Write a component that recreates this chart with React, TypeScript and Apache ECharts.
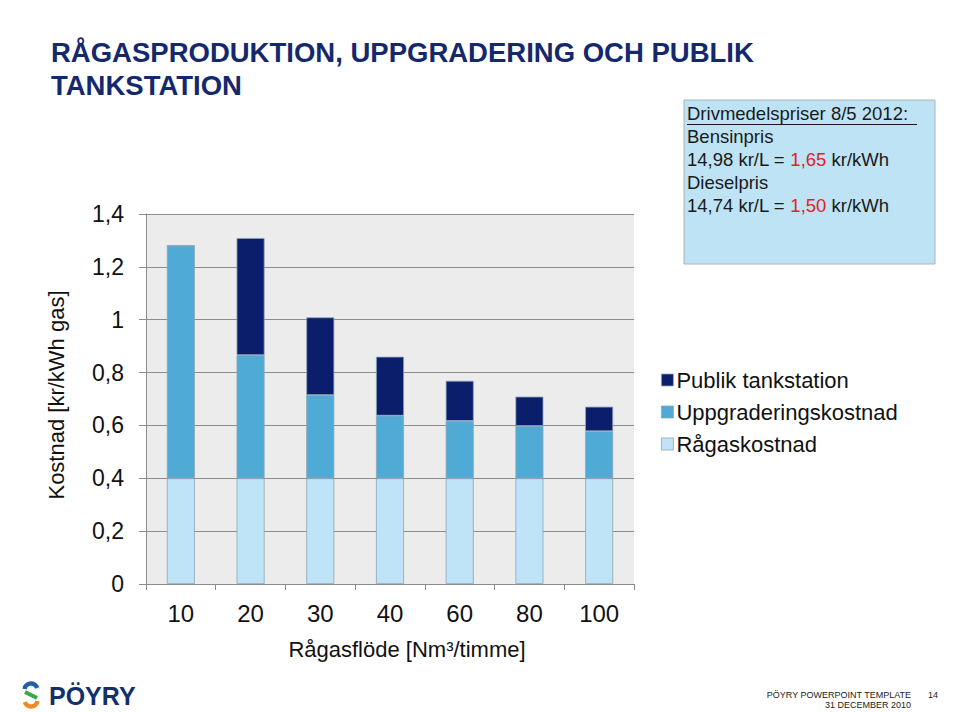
import React, { useEffect, useRef } from "react";
import * as echarts from "echarts";

const categories = ["10", "20", "30", "40", "60", "80", "100"];
const ragaskostnad = [0.4, 0.4, 0.4, 0.4, 0.4, 0.4, 0.4];
const uppgradering = [0.88, 0.466, 0.315, 0.237, 0.217, 0.198, 0.178];
const publik = [0, 0.443, 0.294, 0.223, 0.152, 0.111, 0.093];
const seriesNames = ["Publik tankstation", "Uppgraderingskostnad", "Rågaskostnad"];

const FONT = "'Liberation Sans', Arial, Helvetica, sans-serif";
const NAVY = "#14286e";

export default function App() {
  const ref = useRef<HTMLDivElement>(null);
  useEffect(() => {
    if (!ref.current) return;
    const chart = echarts.init(ref.current, null, { renderer: "svg" });
    const barBorder = { borderColor: "#8aa4b8", borderWidth: 0.8 };
    chart.setOption({
      animation: false,
      backgroundColor: "#ffffff",
      textStyle: { fontFamily: FONT },
      grid: {
        left: 146,
        right: 326,
        top: 214,
        bottom: 128,
        show: true,
        backgroundColor: "#ececec",
        borderWidth: 0,
      },
      legend: {
        data: seriesNames,
        orient: "vertical",
        left: 656,
        top: 364,
        itemWidth: 12,
        itemHeight: 12,
        itemGap: 10,
        icon: "rect",
        itemStyle: { borderColor: "#8aa4b8", borderWidth: 0.8 },
        textStyle: { fontSize: 22, color: "#111", fontFamily: FONT, padding: [0, 0, 0, -2] },
      },
      xAxis: {
        type: "category",
        data: categories,
        axisLine: { show: true, lineStyle: { color: "#8c8c8c", width: 1 } },
        axisTick: { show: true, length: 6, lineStyle: { color: "#8c8c8c" } },
        axisLabel: { fontSize: 24, color: "#111", margin: 17, fontFamily: FONT },
      },
      yAxis: {
        type: "value",
        min: 0,
        max: 1.4,
        interval: 0.2,
        axisLine: { show: true, lineStyle: { color: "#8c8c8c", width: 1 } },
        axisTick: { show: true, length: 7, lineStyle: { color: "#8c8c8c" } },
        axisLabel: {
          fontSize: 23,
          color: "#111",
          margin: 22,
          fontFamily: FONT,
          formatter: (v: number) => String(Math.round(v * 10) / 10).replace(".", ","),
        },
        splitLine: { show: true, lineStyle: { color: "#8c8c8c", width: 1 } },
      },
      series: [
        {
          name: "Rågaskostnad",
          type: "bar",
          stack: "total",
          data: ragaskostnad,
          barWidth: 28,
          itemStyle: { color: "#bfe4f7", ...barBorder },
        },
        {
          name: "Uppgraderingskostnad",
          type: "bar",
          stack: "total",
          data: uppgradering,
          barWidth: 28,
          itemStyle: { color: "#4fabd5", ...barBorder },
        },
        {
          name: "Publik tankstation",
          type: "bar",
          stack: "total",
          data: publik,
          barWidth: 28,
          itemStyle: { color: "#0b1e6b", ...barBorder },
        },
      ],
      graphic: [
        {
          type: "text",
          x: 51,
          y: 36,
          style: {
            text: "RÅGASPRODUKTION, UPPGRADERING OCH PUBLIK\nTANKSTATION",
            font: `bold 27.5px ${FONT}`,
            fill: NAVY,
            lineHeight: 33,
          },
        },
        {
          type: "rect",
          shape: { x: 684, y: 100, width: 251, height: 164 },
          style: { fill: "#bde3f5", stroke: "#a8b4bc", lineWidth: 1 },
        },
        {
          type: "text",
          x: 687,
          y: 102,
          style: {
            text: "Drivmedelspriser 8/5 2012:\nBensinpris\n14,98 kr/L = {r|1,65} kr/kWh\nDieselpris\n14,74 kr/L = {r|1,50} kr/kWh",
            font: `18.5px ${FONT}`,
            fill: "#1a1a1a",
            lineHeight: 23,
            rich: { r: { fill: "#e31e24", font: `18.5px ${FONT}` } },
          },
        },
        {
          type: "line",
          shape: { x1: 687, y1: 124.5, x2: 917, y2: 124.5 },
          style: { stroke: "#1a1a1a", lineWidth: 1 },
        },
        {
          type: "text",
          x: 56,
          y: 395,
          rotation: Math.PI / 2,
          style: {
            text: "Kostnad [kr/kWh gas]",
            font: `22px ${FONT}`,
            fill: "#111",
            align: "center",
            verticalAlign: "middle",
          },
        },
        {
          type: "text",
          x: 407,
          y: 649,
          style: {
            text: "Rågasflöde [Nm³/timme]",
            font: `22px ${FONT}`,
            fill: "#111",
            align: "center",
            verticalAlign: "middle",
          },
        },
        {
          type: "arc",
          shape: { cx: 31, cy: 690, r: 6.5, startAngle: -Math.PI * 0.1, endAngle: Math.PI * 1.05, clockwise: false },
          style: { stroke: "#1f5fae", lineWidth: 4.5, fill: "none" },
        },
        {
          type: "arc",
          shape: { cx: 31, cy: 700, r: 6.5, startAngle: Math.PI * 0.9, endAngle: Math.PI * 2.05, clockwise: false },
          style: { stroke: "#f08a24", lineWidth: 4.5, fill: "none" },
        },
        {
          type: "line",
          shape: { x1: 25, y1: 692, x2: 37, y2: 698 },
          style: { stroke: "#3aa845", lineWidth: 4 },
        },
        {
          type: "text",
          x: 49,
          y: 696,
          style: {
            text: "PÖYRY",
            font: `bold 25px ${FONT}`,
            fill: "#13306b",
            verticalAlign: "middle",
          },
        },
        {
          type: "text",
          x: 911,
          y: 695,
          style: {
            text: "PÖYRY POWERPOINT TEMPLATE",
            font: `9px ${FONT}`,
            fill: "#222",
            align: "right",
            verticalAlign: "middle",
          },
        },
        {
          type: "text",
          x: 911,
          y: 705,
          style: {
            text: "31 DECEMBER 2010",
            font: `9px ${FONT}`,
            fill: "#222",
            align: "right",
            verticalAlign: "middle",
          },
        },
        {
          type: "text",
          x: 928,
          y: 695,
          style: {
            text: "14",
            font: `9px ${FONT}`,
            fill: "#222",
            verticalAlign: "middle",
          },
        },
      ],
    });
    return () => chart.dispose();
  }, []);
  return (
    <div
      ref={ref}
      style={{ position: "fixed", left: 0, top: 0, width: 960, height: 712 }}
    />
  );
}
